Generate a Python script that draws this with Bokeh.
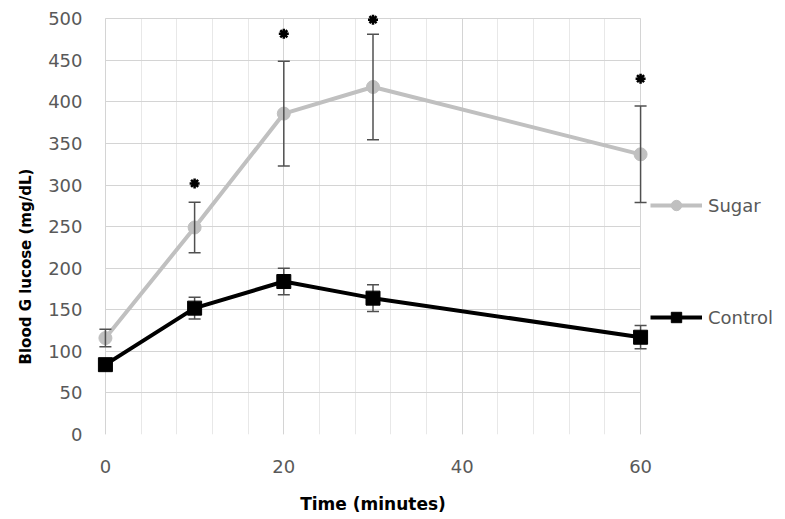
from bokeh.plotting import figure
from bokeh.models import (ColumnDataSource, FixedTicker, Whisker, TeeHead,
                          Legend, LegendItem, Range1d, Title)
from bokeh.embed import file_html
from bokeh.resources import INLINE

# ---- data ----
time = [0, 10, 20, 30, 60]
sugar = [116, 249, 386, 418, 337]
sugar_err = [10.5, 30.5, 63, 63.5, 58]
control = [84, 152, 184, 164, 117]
control_err = [4, 13, 16, 16, 14]
star_time = [10, 20, 30, 60]
star_y = [302, 482, 499, 428]
x_ticks = [0, 20, 40, 60]
x_minor = list(range(0, 61, 4))
y_ticks = list(range(0, 501, 50))

FONT = "DejaVu Sans"
GRAY_TXT = "#595959"

src_s = ColumnDataSource(dict(t=time, v=sugar,
                              lo=[v - e for v, e in zip(sugar, sugar_err)],
                              hi=[v + e for v, e in zip(sugar, sugar_err)]))
src_c = ColumnDataSource(dict(t=time, v=control,
                              lo=[v - e for v, e in zip(control, control_err)],
                              hi=[v + e for v, e in zip(control, control_err)]))
src_star = ColumnDataSource(dict(t=star_time, y=star_y))

p = figure(frame_width=553, frame_height=424, output_backend="svg", toolbar_location=None,
           x_range=Range1d(-1, 61), y_range=Range1d(0, 510),
           min_border_left=96, min_border_right=0,
           min_border_top=10, min_border_bottom=84)
p.outline_line_color = None
p.background_fill_color = "white"
p.border_fill_color = "white"

# axes
p.xaxis.ticker = FixedTicker(ticks=x_ticks, minor_ticks=x_minor)
p.yaxis.ticker = FixedTicker(ticks=y_ticks)
for ax in (p.xaxis[0], p.yaxis[0]):
    ax.axis_line_color = None
    ax.major_tick_line_color = None
    ax.minor_tick_line_color = None
    ax.major_tick_out = 0
    ax.major_tick_in = 0
    ax.major_label_text_font = FONT
    ax.major_label_text_font_size = "18px"
    ax.major_label_text_color = GRAY_TXT
    ax.axis_label_text_font = FONT
    ax.axis_label_text_font_style = "bold"
    ax.axis_label_text_color = "black"
p.xaxis.axis_label = "Time (minutes)"
p.xaxis.axis_label_text_font_size = "17px"
p.xaxis.major_label_standoff = 21
p.yaxis.major_label_standoff = 14
p.xaxis.axis_label_standoff = 18

ytitle = Title(text="Blood G lucose (mg/dL)", align="left", offset=70,
               text_font=FONT, text_font_style="bold", text_font_size="15px",
               text_color="black", standoff=22)
p.add_layout(ytitle, "left")

# grids
p.xgrid.grid_line_color = "#d4d4d4"
p.xgrid.minor_grid_line_color = "#e8e8e8"
p.ygrid.grid_line_color = "#d4d4d4"
try:
    p.ygrid.cross_bounds = (0, 60)
    p.xgrid.cross_bounds = (0, 500)
except Exception:
    pass

# series
s_line = p.line("t", "v", source=src_s, line_color="#c0c0c0", line_width=4)
s_mark = p.scatter("t", "v", source=src_s, marker="circle", size=13,
                   fill_color="#c0c0c0", line_color="#c0c0c0")
c_line = p.line("t", "v", source=src_c, line_color="black", line_width=4)
c_mark = p.scatter("t", "v", source=src_c, marker="square", size=14,
                   fill_color="black", line_color="black")

# error bars: sugar above its markers, control behind its squares
for src, lvl in ((src_s, "annotation"), (src_c, "underlay")):
    w = Whisker(source=src, base="t", lower="lo", upper="hi", dimension="height",
                line_color="#505050", line_width=1.5, level=lvl,
                upper_head=TeeHead(size=12, line_color="#505050", line_width=1.5),
                lower_head=TeeHead(size=12, line_color="#505050", line_width=1.5))
    p.add_layout(w)

# significance asterisks
p.scatter("t", "y", source=src_star, marker="asterisk", size=10,
          line_color="black", line_width=2.5)

legend = Legend(items=[LegendItem(label="Sugar", renderers=[s_line, s_mark]),
                       LegendItem(label="Control", renderers=[c_line, c_mark])],
                location=(1, 104), orientation="vertical",
                glyph_width=52, glyph_height=26, label_height=26,
                label_standoff=6, spacing=86, padding=0, margin=0,
                border_line_color=None, background_fill_alpha=0,
                label_text_font=FONT, label_text_font_size="18px",
                label_text_color=GRAY_TXT)
p.add_layout(legend, "right")

open("out.html", "w").write(file_html(p, INLINE))
